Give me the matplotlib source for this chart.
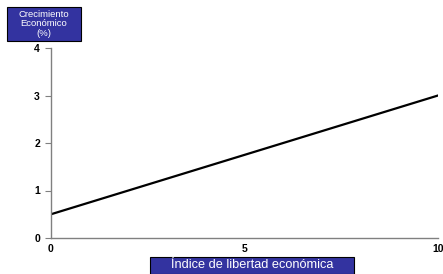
import matplotlib
matplotlib.use("Agg")
import matplotlib.pyplot as plt
from matplotlib.patches import Rectangle

plt.rcParams['font.family'] = ['Liberation Sans', 'DejaVu Sans']

x_vals = [0, 10]
y_vals = [0.5, 3.0]
x_ticks = [0, 5, 10]
y_ticks = [0, 1, 2, 3, 4]
ylabel = "Crecimiento\nEconómico\n(%)"
xlabel = "Índice de libertad económica"

W, H = 443, 274
fig = plt.figure(figsize=(W/100, H/100), dpi=100)
ax = fig.add_axes([51/W, 1-238/H, (438-51)/W, (238-48)/H])
ax.plot(x_vals, y_vals, color="black", lw=1.6)
ax.set_xlim(0, 10)
ax.set_ylim(0, 4)
ax.set_xticks(x_ticks)
ax.set_yticks(y_ticks)
for s in ["top", "right"]:
    ax.spines[s].set_visible(False)
for s in ["left", "bottom"]:
    ax.spines[s].set_color("#808080")
    ax.spines[s].set_linewidth(1.0)
ax.tick_params(axis="y", length=4, color="#808080", labelsize=7.5, pad=4)
ax.tick_params(axis="x", length=0, labelsize=7.5, pad=4)
for lab in ax.get_xticklabels() + ax.get_yticklabels():
    lab.set_fontweight("bold")

box = "#3333A0"
fig.patches.append(Rectangle((7/W, 1-41/H), 74/W, 34/H, transform=fig.transFigure,
                             facecolor=box, edgecolor="black", lw=0.8))
fig.text(44/W, 1-24/H, ylabel, ha="center", va="center", color="white",
         fontsize=6.8, linespacing=1.05)
fig.patches.append(Rectangle((150/W, 0), 204/W, 17/H, transform=fig.transFigure,
                             facecolor=box, edgecolor="black", lw=0.8))
fig.text(252/W, 8.5/H, xlabel, ha="center", va="center", color="white", fontsize=9.2)

fig.savefig("out.png", dpi=100)
